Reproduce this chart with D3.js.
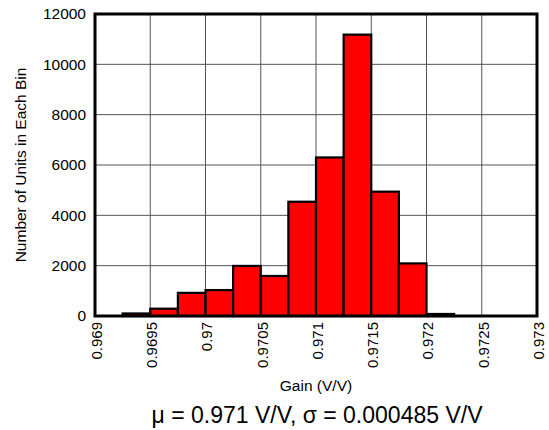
<!DOCTYPE html>
<html>
<head>
<meta charset="utf-8">
<script src="https://cdn.jsdelivr.net/npm/d3@7"></script>
<style>
  body { margin: 0; background: #fff; }
  text { font-family: "Liberation Sans", Arial, sans-serif; fill: #000; }
</style>
</head>
<body>
<div id="chart"></div>
<script>
// histogram bins (left edge) and counts
const binStarts = [0.96925, 0.9695, 0.96975, 0.97, 0.97025, 0.9705, 0.97075, 0.971, 0.97125, 0.9715, 0.97175, 0.972]
const binWidth = 0.00025
const counts = [100, 290, 920, 1030, 1990, 1590, 4540, 6300, 11180, 4940, 2090, 80]
const xTicks = [0.969, 0.9695, 0.97, 0.9705, 0.971, 0.9715, 0.972, 0.9725, 0.973]
const yTicks = [0, 2000, 4000, 6000, 8000, 10000, 12000]

const margin = {top: 14, right: 12, bottom: 114, left: 95}
const width = 549 - margin.left - margin.right
const height = 430 - margin.top - margin.bottom

const svg = d3.select("#chart")
  .append("svg")
  .attr("width", 549)
  .attr("height", 430)
const g = svg.append("g")
  .attr("transform", "translate(" + margin.left + "," + margin.top + ")")

const x = d3.scaleLinear().domain([0.969, 0.973]).range([0, width])
const y = d3.scaleLinear().domain([0, 12000]).range([height, 0])

// grid
g.append("g")
  .selectAll("line")
  .data(xTicks)
  .enter().append("line")
  .attr("x1", d => x(d)).attr("x2", d => x(d))
  .attr("y1", 0).attr("y2", height)
  .attr("stroke", "#555").attr("stroke-width", 1)
g.append("g")
  .selectAll("line")
  .data(yTicks)
  .enter().append("line")
  .attr("x1", 0).attr("x2", width)
  .attr("y1", d => y(d)).attr("y2", d => y(d))
  .attr("stroke", "#555").attr("stroke-width", 1)

// bars
g.selectAll("rect.bar")
  .data(binStarts)
  .enter().append("rect")
  .attr("class", "bar")
  .attr("x", d => x(d))
  .attr("width", x(binWidth + 0.969) - x(0.969))
  .attr("y", (d, i) => y(counts[i]))
  .attr("height", (d, i) => height - y(counts[i]))
  .attr("fill", "#ff0000")
  .attr("stroke", "#000")
  .attr("stroke-width", 2.2)

// frame
g.append("rect")
  .attr("width", width).attr("height", height)
  .attr("fill", "none").attr("stroke", "#000").attr("stroke-width", 3)

// y axis labels
const yAxis = g.append("g")
  .call(d3.axisLeft(y).tickValues(yTicks).tickSize(0).tickPadding(9).tickFormat(d3.format("d")))
yAxis.select(".domain").remove()
yAxis.selectAll("text").style("font-size", "15.5px").style("font-family", "Liberation Sans, Arial, sans-serif")

// x axis labels, rotated
const xAxis = g.append("g")
  .attr("transform", "translate(0," + height + ")")
  .call(d3.axisBottom(x).tickValues(xTicks).tickSize(0).tickFormat(d => String(d)))
xAxis.select(".domain").remove()
xAxis.selectAll("text")
  .attr("transform", "rotate(-90)")
  .attr("x", -6).attr("y", 1).attr("dy", "0.35em")
  .style("text-anchor", "end")
  .style("font-size", "15px").style("font-family", "Liberation Sans, Arial, sans-serif")

// axis titles
g.append("text")
  .attr("transform", "rotate(-90)")
  .attr("x", -height / 2).attr("y", -69)
  .attr("text-anchor", "middle")
  .style("font-size", "15.5px")
  .text("Number of Units in Each Bin")

g.append("text")
  .attr("x", width / 2).attr("y", height + 75)
  .attr("text-anchor", "middle")
  .style("font-size", "15.5px")
  .text("Gain (V/V)")

svg.append("text")
  .attr("x", margin.left + width / 2 + 1).attr("y", 423)
  .attr("text-anchor", "middle")
  .style("font-size", "23px")
  .text("μ = 0.971 V/V, σ = 0.000485 V/V")
</script>
</body>
</html>
